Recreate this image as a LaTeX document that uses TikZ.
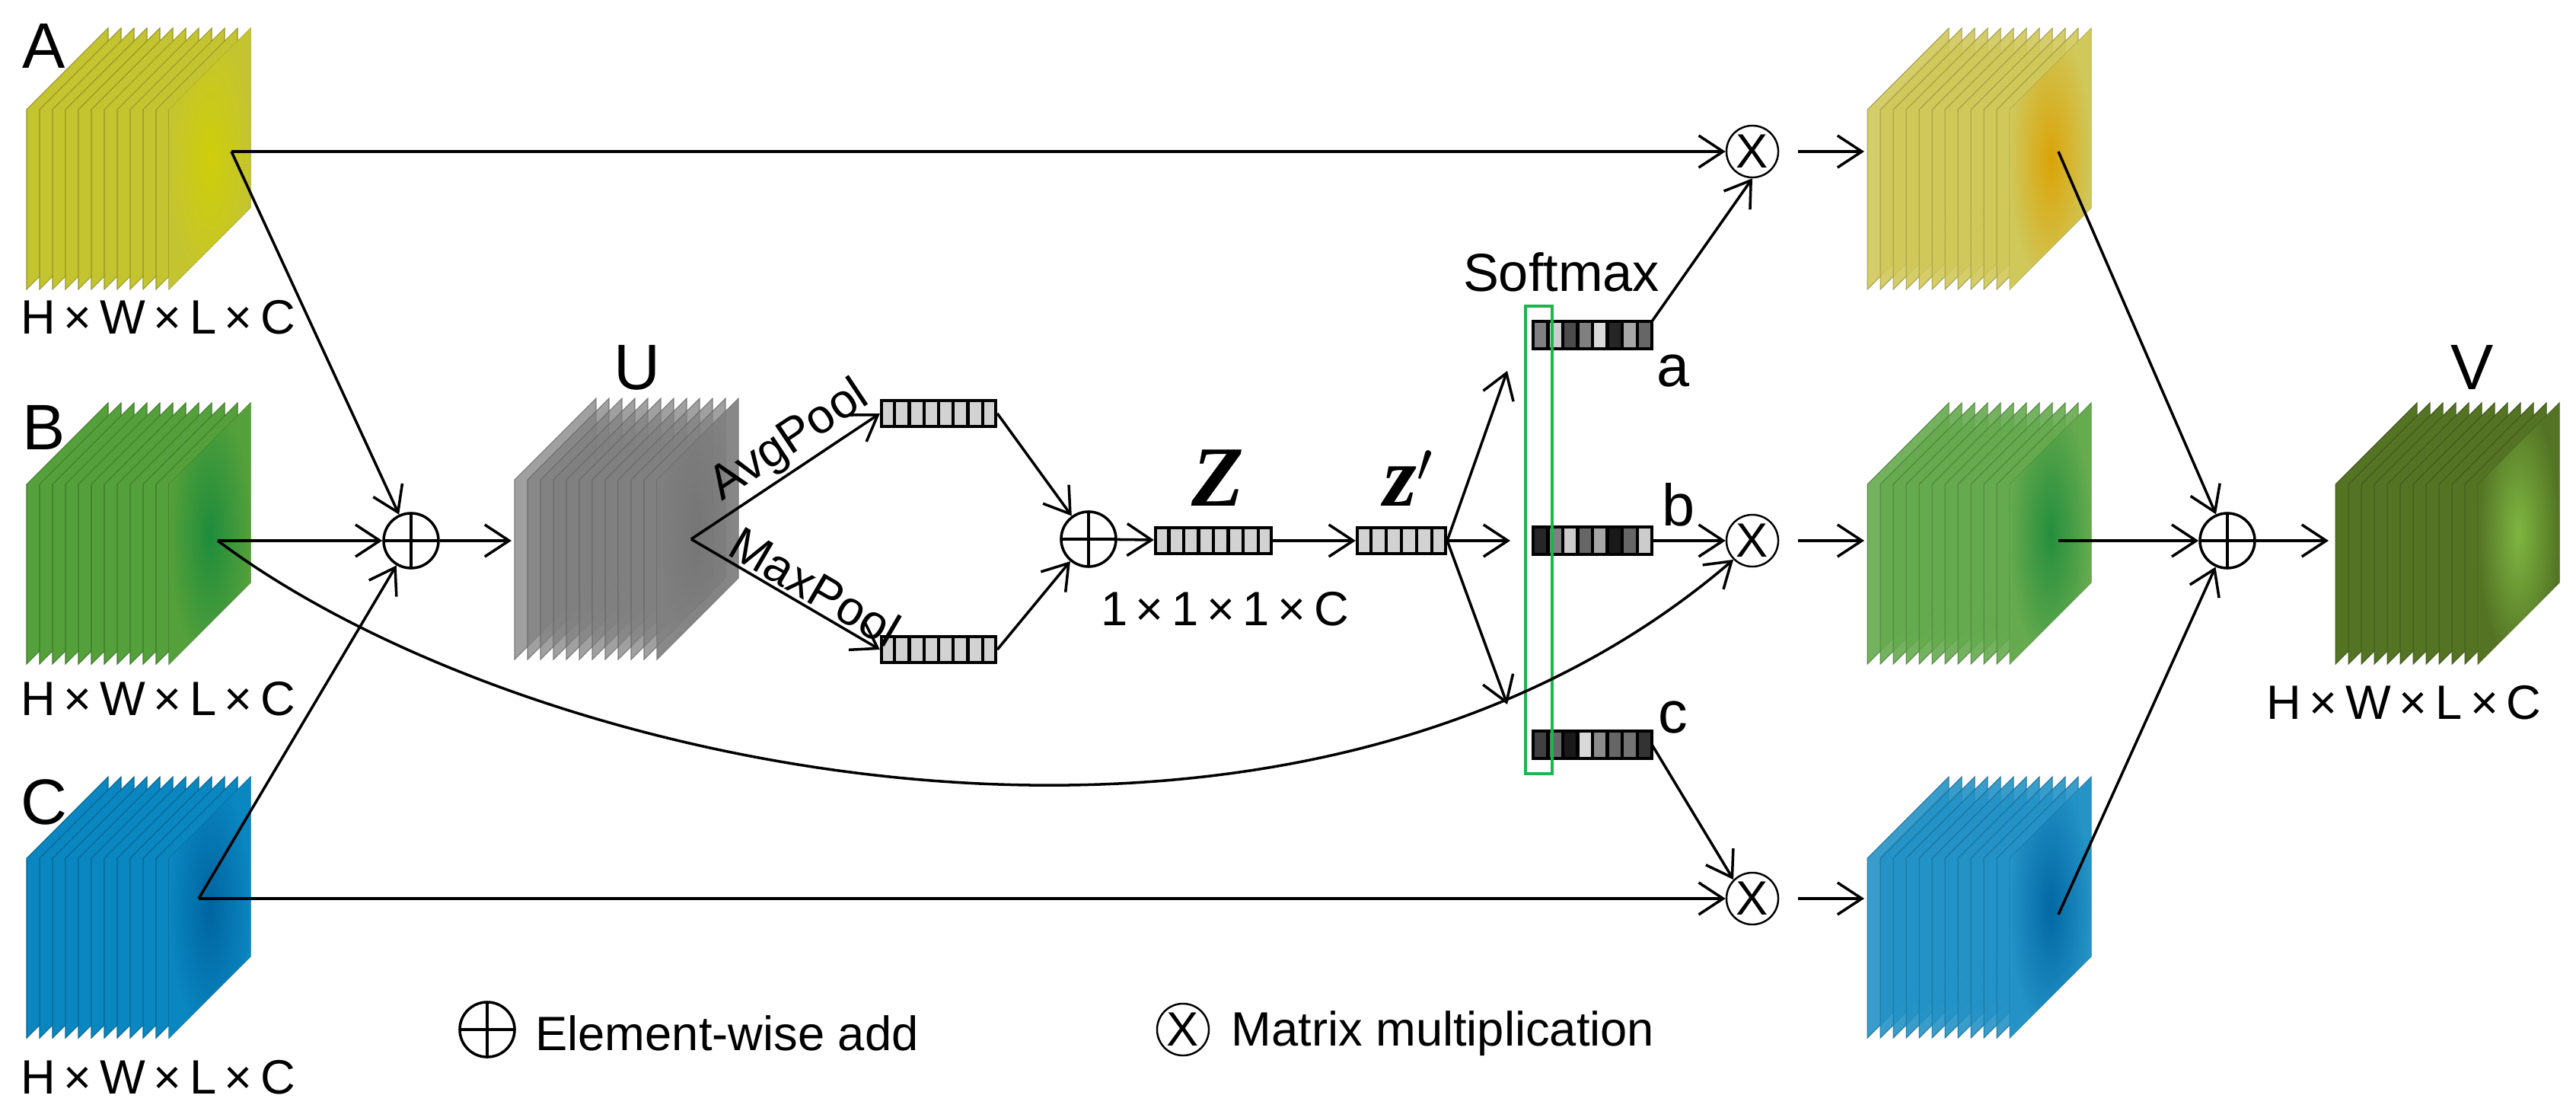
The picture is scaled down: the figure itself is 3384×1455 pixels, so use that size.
\documentclass[tikz,border=0pt]{standalone}
\usepackage{fontspec}
\setmainfont{Liberation Sans}
\newfontfamily\zfont{Liberation Serif}
\usetikzlibrary{arrows.meta,calc}

% colours of the feature maps
\definecolor{ayel}{RGB}{196,196,48}
\definecolor{ayelc}{RGB}{206,206,10}
\definecolor{bgrn}{RGB}{84,160,58}
\definecolor{bgrnc}{RGB}{30,140,60}
\definecolor{cblu}{RGB}{10,134,192}
\definecolor{cbluc}{RGB}{0,100,160}
\definecolor{oyel}{RGB}{200,190,60}
\definecolor{oyelc}{RGB}{220,160,0}
\definecolor{vgrn}{RGB}{84,116,36}
\definecolor{vgrnc}{RGB}{126,182,66}
\definecolor{sgrn}{RGB}{30,180,80}

% stack of slices: left x, top y, colour, centre colour, opacity
\newcommand{\fstack}[5]{%
  \foreach \i in {0,...,11}{
    \pgfmathsetmacro\lx{#1+\i*17}
    \filldraw[fill=#3, draw=#3!75!black, line width=0.3pt, opacity=#5]
      (\lx,#2+107) -- (\lx+107,#2) -- (\lx+107,#2+236) -- (\lx,#2+343) -- cycle;
  }
  \shade[inner color=#4, outer color=#3, opacity=#5]
    (#1+187,#2+107) -- (#1+294,#2) -- (#1+294,#2+236) -- (#1+187,#2+343) -- cycle;
}

% cells of a bar node: name, list of grey levels
\newcommand{\cells}[2]{%
  \foreach \g [count=\k] in {#2}{
    \filldraw[fill=black!\g, draw=black, line width=1.2pt]
      ($(#1.south west)!{(\k-1)/8}!(#1.south east)$) rectangle
      ($(#1.north west)!{\k/8}!(#1.north east)$);
  }
}
\newcommand{\stripes}[2]{%
  \foreach \k in {1,...,#2}{
    \draw[line width=1.2pt] ($(#1.south west)!{\k/(#2+1)}!(#1.south east)$) --
      ($(#1.north west)!{\k/(#2+1)}!(#1.north east)$);
  }
}

\begin{document}
\begin{tikzpicture}
  [x=0.01cm, y=-0.01cm,
  line width=1pt,
  arr/.style={-{Straight Barb[length=3.2mm,width=4.2mm,line width=1pt]}},
  add/.style={circle,draw,line width=1pt,minimum size=7.2mm,inner sep=0pt,
    path picture={\draw (path picture bounding box.north) -- (path picture bounding box.south)
      (path picture bounding box.west) -- (path picture bounding box.east);}},
  mul/.style={circle,draw,line width=0.7pt,minimum size=6.8mm,inner sep=0pt,font=\fontsize{18}{20}\selectfont},
  bar/.style={draw,line width=1.2pt,fill=gray!35,minimum height=3.4mm,inner sep=0pt},
  soft/.style={draw,line width=1.2pt,minimum width=15.2mm,minimum height=3.2mm,inner sep=0pt},
  big/.style={font=\fontsize{24}{26}\selectfont},
  dims/.style={anchor=west,font=\fontsize{18}{20}\selectfont},
  txt/.style={font=\fontsize{18}{20}\selectfont},
  pool/.style={sloped,above,inner sep=1pt,font=\fontsize{18}{20}\selectfont}
  ]
  \useasboundingbox (0,0) rectangle (3384,1455);

  % input maps
  \fstack{35}{37}{ayel}{ayelc}{1}
  \fstack{35}{529}{bgrn}{bgrnc}{1}
  \fstack{35}{1020}{cblu}{cbluc}{1}
  \node[big] (la) at (58,60) {A};
  \node[big] (lb) at (58,561) {B};
  \node[big] (lc) at (58,1053) {C};
  \node[dims] (da) at (14,417) {H\,×\,W\,×\,L\,×\,C};
  \node[dims] (db) at (14,918) {H\,×\,W\,×\,L\,×\,C};
  \node[dims] (dc) at (14,1415) {H\,×\,W\,×\,L\,×\,C};
  \coordinate (A) at (304,199);
  \coordinate (B) at (286,710);
  \coordinate (C) at (261,1180);

  % fuse
  \node[add] (p1) at (540,710) {};
  \fstack{676}{523}{gray}{gray!90!black}{0.75}
  \node[big] (lu) at (837,483) {U};
  \coordinate (u) at (908,708);
  \draw[arr] (A) -- (p1);
  \draw[arr] (B) -- (p1);
  \draw[arr] (C) -- (p1);
  \draw[arr] (p1) -- (672,710);

  % squeeze
  \node[bar, minimum width=15mm] (avg) at (1233,543) {};
  \node[bar, minimum width=15mm] (max) at (1233,853) {};
  \stripes{avg}{7}
  \stripes{max}{7}
  \draw[arr] (u) -- node[pool, pos=0.6] {AvgPool} (avg.west);
  \draw[arr] (u) -- node[pool, pos=0.6] {MaxPool} (max.west);
  \node[add] (p2) at (1430,708) {};
  \draw[arr] (avg.east) -- (p2);
  \draw[arr] (max.east) -- (p2);
  \node[bar, minimum width=15.2mm] (z) at (1594,710) {};
  \stripes{z}{7}
  \node[bar, minimum width=11.6mm] (zp) at (1841,710) {};
  \stripes{zp}{5}
  \node[font=\zfont\bfseries\itshape\fontsize{32}{34}\selectfont] (lz) at (1600,628) {Z};
  \node[font=\zfont\bfseries\itshape\fontsize{32}{34}\selectfont] (lzp) at (1850,628) {z$'$};
  \node[txt] (dz) at (1609,800) {1\,×\,1\,×\,1\,×\,C};
  \draw[arr] (p2) -- (z);
  \draw[arr] (z) -- (zp);

  % select
  \node[soft] (sa) at (2092,440) {};
  \node[soft] (sb) at (2092,710) {};
  \node[soft] (sc) at (2092,978) {};
  \cells{sa}{50,20,70,50,15,85,35,60}
  \cells{sb}{85,50,20,60,35,90,60,20}
  \cells{sc}{75,60,90,15,45,60,55,80}
  \draw[sgrn, line width=1.2pt] (2004,402) rectangle (2039,1016);
  \node[font=\fontsize{20}{22}\selectfont] (sm) at (2051,357) {Softmax};
  \node[font=\fontsize{22}{24}\selectfont] (wa) at (2198,487) {a};
  \node[font=\fontsize{22}{24}\selectfont] (wb) at (2205,663) {b};
  \node[font=\fontsize{22}{24}\selectfont] (wc) at (2198,942) {c};
  \coordinate (za) at (1980,487);
  \coordinate (zb) at (1984,710);
  \coordinate (zc) at (1980,925);
  \draw[arr] (zp.east) -- (za);
  \draw[arr] (zp.east) -- (zb);
  \draw[arr] (zp.east) -- (zc);

  \node[mul] (m1) at (2302,199) {X};
  \node[mul] (m2) at (2302,710) {X};
  \node[mul] (m3) at (2302,1180) {X};
  \draw[arr] (A) -- (m1);
  \draw[arr] (C) -- (m3);
  \draw[arr] (B) .. controls (700,1020) and (1700,1230) .. (m2.south west);
  \draw[arr] (sa.north east) -- (m1.south);
  \draw[arr] (sb.east) -- (m2.west);
  \draw[arr] (sc.east) -- (m3.north west);

  % weighted maps
  \fstack{2453}{37}{oyel!85!white}{oyelc}{0.9}
  \fstack{2453}{529}{bgrn!90!white}{bgrnc}{0.9}
  \fstack{2453}{1020}{cblu!90!white}{cbluc}{0.9}
  \coordinate (ra) at (2704,199);
  \coordinate (rb) at (2704,710);
  \coordinate (rc) at (2704,1201);
  \coordinate (ia) at (2449,199);
  \coordinate (ib) at (2449,710);
  \coordinate (ic) at (2449,1180);
  \draw[arr] (m1) ++(60,0) -- (ia);
  \draw[arr] (m2) ++(60,0) -- (ib);
  \draw[arr] (m3) ++(60,0) -- (ic);

  % output
  \node[add] (p3) at (2926,710) {};
  \draw[arr] (ra) -- (p3);
  \draw[arr] (rb) -- (p3);
  \draw[arr] (rc) -- (p3);
  \fstack{3068}{529}{vgrn}{vgrnc}{1}
  \coordinate (vi) at (3059,710);
  \draw[arr] (p3) -- (vi);
  \node[big] (lv) at (3248,482) {V};
  \node[font=\fontsize{18}{20}\selectfont] (dv) at (3158,923) {H\,×\,W\,×\,L\,×\,C};

  % legend
  \node[add] (ladd) at (640,1352) {};
  \node[txt, anchor=west] (tadd) at (690,1357) {Element-wise add};
  \node[mul] (lmul) at (1554,1352) {X};
  \node[txt, anchor=west] (tmul) at (1604,1357) {Matrix multiplication};
\end{tikzpicture}
\end{document}
